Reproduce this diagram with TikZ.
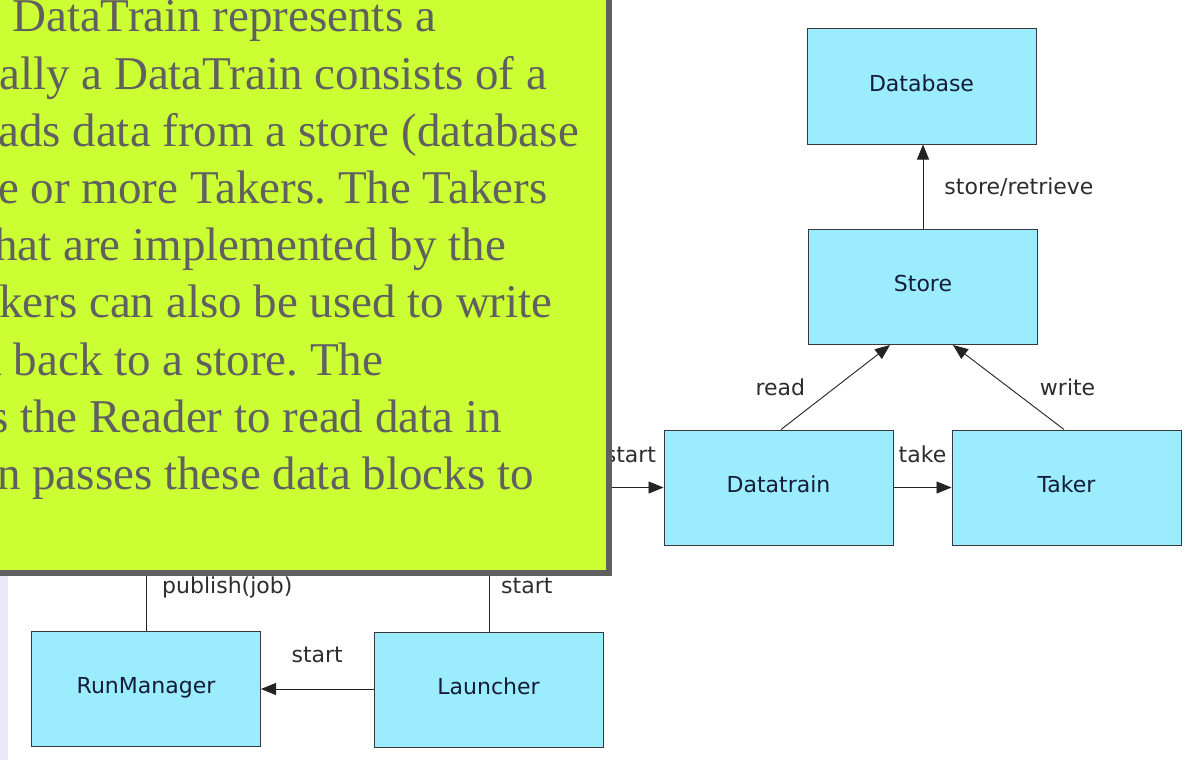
\documentclass[tikz,border=0pt]{standalone}
\usepackage{fontspec}
\setmainfont{Liberation Serif}
\newfontfamily\diagfont{DejaVu Sans}
\usetikzlibrary{arrows.meta,positioning}
\frenchspacing

\definecolor{boxcyan}{RGB}{155,236,252}
\definecolor{boxline}{RGB}{55,55,60}
\definecolor{boxink}{RGB}{20,28,55}
\definecolor{lblink}{RGB}{45,45,45}
\definecolor{lineink}{RGB}{35,35,35}
\definecolor{notegreen}{RGB}{204,255,51}
\definecolor{notegrey}{RGB}{96,96,96}
\definecolor{striplav}{RGB}{232,232,250}

\tikzset{
    box/.style={draw=boxline, fill=boxcyan, line width=1pt, minimum width=229pt,
        minimum height=115pt, inner sep=0pt, text=boxink, text height=16pt, text depth=7pt,
        font=\diagfont\fontsize{22}{26}\selectfont},
    lbl/.style={inner sep=0pt, text=lblink, font=\diagfont\fontsize{22}{26}\selectfont},
    wire/.style={draw=lineink, line width=0.9pt},
    arr/.style={wire, -{Triangle[length=15pt,width=12pt]}},
    noteline/.style={anchor=base west, inner sep=0pt, text=notegrey,
        font=\fontsize{47}{57}\selectfont}
}

\begin{document}
\begin{tikzpicture}[x=1pt, y=-1pt]
    \useasboundingbox (0,0) rectangle (1190,760);
    \fill[white] (0,0) rectangle (1190,760);
    \fill[striplav] (0,576) rectangle (8,760);

    % boxes
    \node[box] (database) at (921.5,86.5) {Database};
    \node[box] (store) at (923,287) {Store};
    \node[box] (datatrain) at (778.5,487.5) {Datatrain};
    \node[box] (taker) at (1066.5,487.5) {Taker};
    \node[box] (runmanager) at (146,689) {RunManager};
    \node[box] (launcher) at (488.5,690) {Launcher};

    % ends hidden under the note
    \coordinate (trainsrc) at (590,487.5);
    \coordinate (jobsrc) at (146,540);
    \coordinate (launchsrc) at (489,540);

    % connectors
    \draw[arr] (store.north) -- node[lbl, right=21pt] {store/retrieve} (store.north |- database.south);
    \draw[arr] ([xshift=2.5pt]datatrain.north) -- node[lbl, left=30pt] {read} ([xshift=-33pt]store.south);
    \draw[arr] ([xshift=-2.5pt]taker.north) -- node[lbl, right=31pt] {write} ([xshift=30pt]store.south);
    \draw[arr] (datatrain) -- node[lbl, above=24pt] {take} (taker);
    \draw[arr] (trainsrc) -- node[lbl, pos=1, above left=24pt and 7pt] {start} (datatrain.west);
    \draw[arr] (launcher.west |- runmanager.east) -- node[lbl, above=26pt] {start} (runmanager.east);
    \draw[wire] (runmanager.north) -- (jobsrc);
    \draw[wire] (launcher.north -| launchsrc) -- (launchsrc);
    \node[lbl, anchor=base west] (joblbl) at (162,593) {publish(job)};
    \node[lbl, anchor=base west] (launchlbl) at (501,593) {start};

    % note on top
    \fill[notegrey] (-10,-10) rectangle (612,576);
    \fill[notegreen] (-10,-10) rectangle (606,570);
    \begin{scope}
        \clip (0,0) rectangle (606,570);
        \foreach \xpos/\ypos/\notetext in {
            12/32/{DataTrain represents a},
            -1/89/{ally a DataTrain consists of a},
            -2/146/{ads data from a store (database},
            -2/203/{e or more Takers. The Takers},
            -6/260/{hat are implemented by the},
            -1/317/{kers can also be used to write},
            -19/375/{a back to a store. The},
            -10/432/{s the Reader to read data in},
            -3/489/{n passes these data blocks to}}
            \node[noteline] at (\xpos,\ypos) {\notetext};
    \end{scope}
\end{tikzpicture}
\end{document}
